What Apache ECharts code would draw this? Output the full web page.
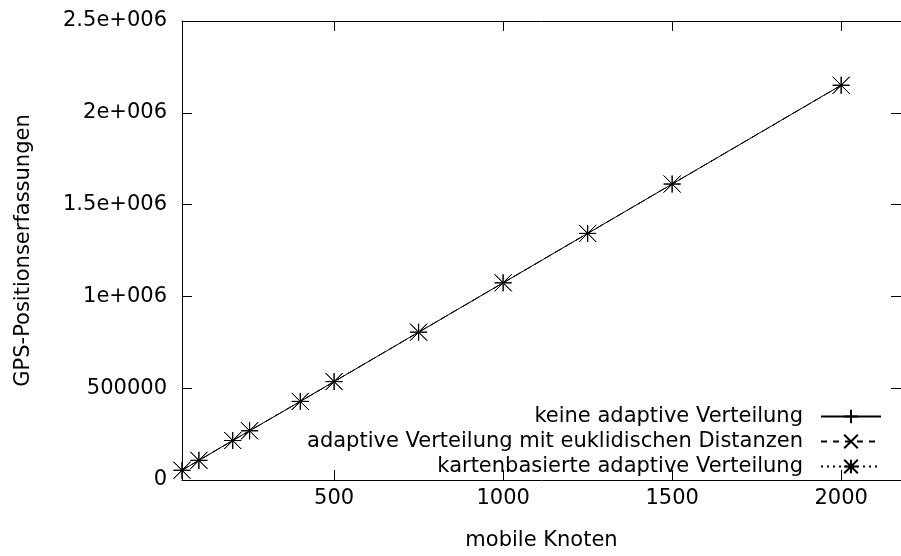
<!DOCTYPE html>
<html>
<head>
<meta charset="utf-8">
<script src="https://cdn.jsdelivr.net/npm/echarts@6/dist/echarts.min.js"></script>
<style>
  html, body { margin: 0; padding: 0; background: #fff; }
  #chart { width: 901px; height: 556px; }
</style>
</head>
<body>
<div id="chart"></div>
<script>
// mobile Knoten
const nodes = [50, 100, 200, 250, 400, 500, 750, 1000, 1250, 1500, 2000];
// GPS-Positionserfassungen je Verfahren
const keineAdaptive = [53000, 107000, 215000, 268000, 428000, 536000, 805000, 1074000, 1343000, 1612000, 2150000];
const euklidisch = [53000, 107000, 215000, 268000, 428000, 536000, 805000, 1074000, 1343000, 1612000, 2150000];
const kartenbasiert = [53000, 107000, 215000, 268000, 428000, 536000, 805000, 1074000, 1343000, 1612000, 2150000];

const xTicks = [500, 1000, 1500, 2000];
const yTickLabels = ["0", "500000", "1e+006", "1.5e+006", "2e+006", "2.5e+006"];

const seriesNames = [
  "keine adaptive Verteilung",
  "adaptive Verteilung mit euklidischen Distanzen",
  "kartenbasierte adaptive Verteilung"
];

const FONT = "DejaVu Sans";
const FS = 21;
const plusPath = "path://M0,-1L0,1M-1,0L1,0";
const crossPath = "path://M-1,-1L1,1M-1,1L1,-1";
const starPath = "path://M0,-1L0,1M-1,0L1,0M-1,-1L1,1M-1,1L1,-1";

function pairs(ys) {
  return nodes.map((x, i) => [x, ys[i]]);
}

function makeSeries(name, ys, symbol, lineType) {
  return {
    name: name,
    type: "line",
    data: pairs(ys),
    symbol: symbol,
    symbolSize: 17,
    showAllSymbol: true,
    lineStyle: { color: "#000", width: 1, type: lineType },
    itemStyle: { color: "transparent", borderColor: "#000", borderWidth: 1 },
    emphasis: { disabled: true },
    animation: false
  };
}

const chart = echarts.init(document.getElementById("chart"));

const axisLine = { show: true, onZero: false, lineStyle: { color: "#000", width: 1 } };

const option = {
  backgroundColor: "#fff",
  animation: false,
  textStyle: { fontFamily: FONT, color: "#000" },
  grid: { left: 182, top: 21, width: 720, height: 463, containLabel: false },
  legend: {
    orient: "vertical",
    align: "right",
    right: 14,
    top: 401,
    itemWidth: 60,
    itemHeight: 17,
    itemGap: 4,
    textStyle: { fontFamily: FONT, fontSize: FS, color: "#000", padding: [0, 13, 0, 0] },
    data: seriesNames
  },
  xAxis: [
    {
      type: "value",
      min: 50,
      max: 2177,
      name: "mobile Knoten",
      nameLocation: "middle",
      nameGap: 50,
      nameTextStyle: { fontFamily: FONT, fontSize: FS, color: "#000" },
      axisLine: axisLine,
      axisTick: { show: true, inside: true, length: 10, customValues: xTicks, lineStyle: { color: "#000" } },
      axisLabel: {
        show: true,
        customValues: xTicks,
        margin: 8,
        fontFamily: FONT,
        fontSize: FS,
        color: "#000",
        formatter: (v) => String(v)
      },
      splitLine: { show: false }
    },
    {
      type: "value",
      position: "top",
      min: 50,
      max: 2177,
      axisLine: axisLine,
      axisTick: { show: true, inside: true, length: 10, customValues: xTicks, lineStyle: { color: "#000" } },
      axisLabel: { show: false },
      splitLine: { show: false }
    }
  ],
  yAxis: [
    {
      type: "value",
      min: 0,
      max: 2500000,
      interval: 500000,
      name: "GPS-Positionserfassungen",
      nameLocation: "middle",
      nameGap: 148,
      nameRotate: 90,
      nameTextStyle: { fontFamily: FONT, fontSize: FS, color: "#000" },
      axisLine: axisLine,
      axisTick: { show: true, inside: true, length: 10, lineStyle: { color: "#000" } },
      axisLabel: {
        show: true,
        margin: 15,
        fontFamily: FONT,
        fontSize: FS,
        color: "#000",
        formatter: (v) => yTickLabels[Math.round(v / 500000)]
      },
      splitLine: { show: false }
    },
    {
      type: "value",
      position: "right",
      min: 0,
      max: 2500000,
      interval: 500000,
      axisLine: axisLine,
      axisTick: { show: true, inside: true, length: 10, lineStyle: { color: "#000" } },
      axisLabel: { show: false },
      splitLine: { show: false }
    }
  ],
  series: [
    makeSeries(seriesNames[0], keineAdaptive, plusPath, "solid"),
    makeSeries(seriesNames[1], euklidisch, crossPath, [6, 6]),
    makeSeries(seriesNames[2], kartenbasiert, starPath, [2, 4])
  ]
};

chart.setOption(option);
</script>
</body>
</html>
